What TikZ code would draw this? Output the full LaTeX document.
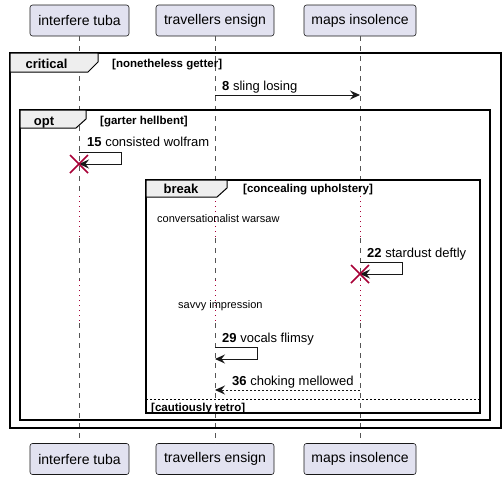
\documentclass[tikz,border=0pt]{standalone}
\usepackage{fontspec}
\setmainfont{Liberation Sans}
\usetikzlibrary{arrows.meta}
\definecolor{partfill}{HTML}{E2E2F0}
\definecolor{partline}{HTML}{181818}
\definecolor{tabfill}{HTML}{EEEEEE}
\definecolor{deadred}{HTML}{A80036}
\definecolor{lifegray}{HTML}{555555}
\begin{document}
\begin{tikzpicture}[x=1pt,y=-1pt,
  part/.style={draw=partline, fill=partfill, rounded corners=2.5pt, line width=0.6pt,
    font=\fontsize{14}{16}\selectfont, minimum height=31pt, inner sep=0pt},
  lifeline/.style={draw=lifegray, dash pattern=on 5pt off 5pt, line width=0.6pt},
  delayline/.style={draw=deadred, line width=1pt, dash pattern=on 1pt off 4pt},
  msg/.style={draw=partline, line width=1pt, -{Stealth[length=10pt,width=9pt,inset=3.5pt]}},
  retmsg/.style={msg, dash pattern=on 2pt off 2pt},
  frame/.style={draw=black, line width=1.5pt},
  tab/.style={draw=black, fill=tabfill, line width=1pt},
  lbl/.style={font=\fontsize{13}{15}\selectfont, anchor=base west, inner sep=0pt},
  frlbl/.style={font=\bfseries\fontsize{13}{15}\selectfont, anchor=base, inner sep=0pt},
  cond/.style={font=\bfseries\fontsize{11.5}{13}\selectfont, anchor=base west, inner sep=0pt},
  delaytxt/.style={font=\fontsize{11}{13}\selectfont, anchor=base west, inner sep=0pt},
  destroy/.style={draw=deadred, line width=1.5pt}
]
\useasboundingbox (0,0) rectangle (504,480);

% participants
\node[part, minimum width=99pt] (pTt) at (79.5,20.5) {interfere tuba};
\node[part, minimum width=118pt] (pEt) at (215,20.5) {travellers ensign};
\node[part, minimum width=112pt] (pMt) at (360,20.5) {maps insolence};
\node[part, minimum width=99pt] (pTb) at (79.5,459) {interfere tuba};
\node[part, minimum width=118pt] (pEb) at (215,459) {travellers ensign};
\node[part, minimum width=112pt] (pMb) at (360,459) {maps insolence};

% lifeline key points
\foreach \n/\x in {T/79,E/215,M/360}{
  \coordinate (\n0) at (\x,36);
  \coordinate (\n1) at (\x,196);
  \coordinate (\n2) at (\x,238);
  \coordinate (\n3) at (\x,280);
  \coordinate (\n4) at (\x,323);
  \coordinate (\n5) at (\x,443);
  \draw[lifeline] (\n0) -- (\n1);
  \draw[delayline] (\n1) -- (\n2);
  \draw[lifeline] (\n2) -- (\n3);
  \draw[delayline] (\n3) -- (\n4);
  \draw[lifeline] (\n4) -- (\n5);
}

% frames
\draw[frame] (10,53) rectangle (501,428);
\draw[tab] (10,53) -- (98,53) -- (98,62) -- (88,72) -- (10,72) -- cycle;
\node[frlbl] (fcrit) at (46.5,68) {critical};
\node[cond] (ccrit) at (112,67) {[nonetheless getter]};

\draw[frame] (20,110) rectangle (490,420);
\draw[tab] (20,110) -- (86,110) -- (86,119) -- (76,128) -- (20,128) -- cycle;
\node[frlbl] (fopt) at (44,125) {opt};
\node[cond] (copt) at (100,124) {[garter hellbent]};

\draw[frame] (146,180) rectangle (480,413);
\draw[tab] (146,180) -- (227,180) -- (227,188) -- (217,197) -- (146,197) -- cycle;
\node[frlbl] (fbrk) at (181,193) {break};
\node[cond] (cbrk) at (243,192) {[concealing upholstery]};
\draw[line width=0.8pt, dash pattern=on 2pt off 2pt] (146,399) -- (480,399);
\node[cond] (celse) at (151,411) {[cautiously retro]};

% message 8
\coordinate (m8s) at (215,95);
\coordinate (m8e) at (360,95);
\draw[msg] (m8s) -- (m8e);
\node[lbl] (l8) at (222,90) {\textbf{8} sling losing};

% message 15 (self, destroy)
\coordinate (m15s) at (79,152);
\coordinate (m15e) at (79,164);
\draw[msg] (m15s) -- ++(42,0) |- (m15e);
\node[lbl] (l15) at (87,146) {\textbf{15} consisted wolfram};
\draw[destroy] (70,155) -- (88,173) (70,173) -- (88,155);

% delay texts
\node[delaytxt] (d1) at (157,222) {conversationalist warsaw};
\node[delaytxt] (d2) at (178,308) {savvy impression};

% message 22 (self, destroy)
\coordinate (m22s) at (360,262);
\coordinate (m22e) at (360,274);
\draw[msg] (m22s) -- ++(42,0) |- (m22e);
\node[lbl] (l22) at (367,257) {\textbf{22} stardust deftly};
\draw[destroy] (351,265) -- (369,283) (351,283) -- (369,265);

% message 29 (self)
\coordinate (m29s) at (215,347);
\coordinate (m29e) at (215,359);
\draw[msg] (m29s) -- ++(42,0) |- (m29e);
\node[lbl] (l29) at (222,342) {\textbf{29} vocals flimsy};

% message 36 (return)
\coordinate (m36s) at (360,390);
\coordinate (m36e) at (215,390);
\draw[retmsg] (m36s) -- (m36e);
\node[lbl] (l36) at (232,385) {\textbf{36} choking mellowed};
\end{tikzpicture}
\end{document}
